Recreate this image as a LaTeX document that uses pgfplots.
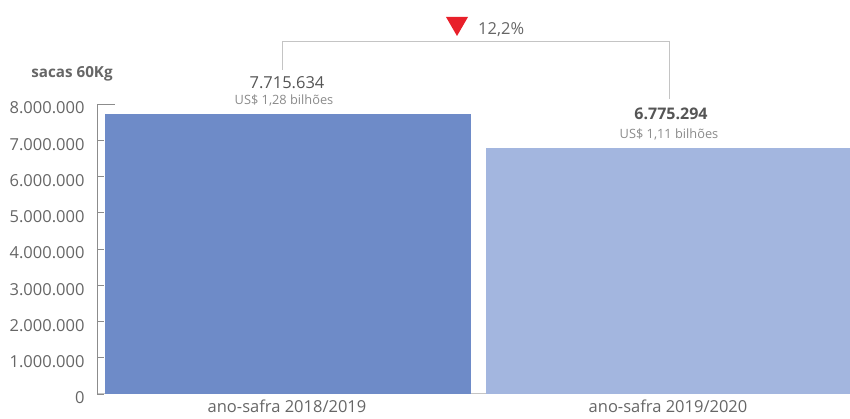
\documentclass[border=0pt]{standalone}
\usepackage{fontspec}
\setmainfont{Open Sans}
\usepackage{pgfplots}
\pgfplotsset{compat=1.18}
\definecolor{barA}{HTML}{6E8BC8}
\definecolor{barB}{HTML}{A3B6DF}
\definecolor{txt}{HTML}{666666}
\definecolor{txtd}{HTML}{555555}
\definecolor{txtl}{HTML}{8A8A8A}
\definecolor{brk}{HTML}{C4C4C4}
\definecolor{axc}{HTML}{8C8C8C}
\definecolor{downred}{HTML}{E8202A}
\begin{document}
\begin{tikzpicture}[x=1pt,y=1pt]
\path[use as bounding box] (0,0) rectangle (850,419);
\begin{axis}[
  at={(97pt,25pt)}, anchor=south west,
  scale only axis, width=753pt, height=290pt,
  xmin=97, xmax=850, ymin=0, ymax=8000000,
  clip=false,
  axis x line*=bottom, axis y line*=left,
  x axis line style={-, draw=brk, line width=1pt},
  y axis line style={-, draw=axc, line width=0.9pt},
  tick align=inside,
  major tick length=7pt,
  ytick={0,1000000,2000000,3000000,4000000,5000000,6000000,7000000,8000000},
  ytick style={draw=axc, line width=0.9pt},
  scaled y ticks=false,
  /pgf/number format/.cd, fixed, precision=0, 1000 sep={.}, assume math mode=true,
  /pgfplots/.cd,
  yticklabel style={font=\fontsize{16.5}{19}\selectfont, text=txt, xshift=-9pt, yshift=-4pt},
  xtick={287,668},
  xticklabels={ano-safra 2018/2019, ano-safra 2019/2020},
  xtick style={draw=none},
  xticklabel style={font=\fontsize{16.5}{19}\selectfont, text=txt, yshift=-2pt},
  extra x ticks={479},
  extra x tick labels={},
  extra x tick style={tick style={draw=axc, line width=0.8pt}, major tick length=6pt},
]
\addplot[ybar, bar shift=0pt, bar width=366, fill=barA, draw=none] coordinates {(288,7715634)};
\addplot[ybar, bar shift=0pt, bar width=364, fill=barB, draw=none] coordinates {(668,6775294)};
\node[anchor=base, text=txtd, font=\fontsize{16.5}{19}\selectfont, yshift=25.5pt] at (axis cs:287,7715634) {7.715.634};
\node[anchor=base, text=txtl, font=\fontsize{12.8}{15}\selectfont, yshift=10pt] at (axis cs:284,7715634) {US\$ 1,28 bilhões};
\node[anchor=base, text=txtd, font=\bfseries\fontsize{16}{19}\selectfont, yshift=29pt] at (axis cs:671,6775294) {6.775.294};
\node[anchor=base, text=txtl, font=\fontsize{12.8}{15}\selectfont, yshift=10.3pt] at (axis cs:669,6775294) {US\$ 1,11 bilhões};
\end{axis}
\draw[axc, line width=0.9pt] (97,315) -- (115,315);
\draw[brk, line width=1pt] (282,349) -- (282,377) -- (669,377) -- (669,320);
\fill[downred] (446,402) -- (468,402) -- (457,383) -- cycle;
\node[anchor=base west, inner sep=0pt, text=txt, font=\fontsize{16.5}{19}\selectfont] at (478,384.7) {12,2\%};
\node[anchor=base, inner sep=0pt, text=txt, font=\bfseries\fontsize{15.2}{18}\selectfont] at (72,341.7) {sacas 60Kg};
\end{tikzpicture}
\end{document}
